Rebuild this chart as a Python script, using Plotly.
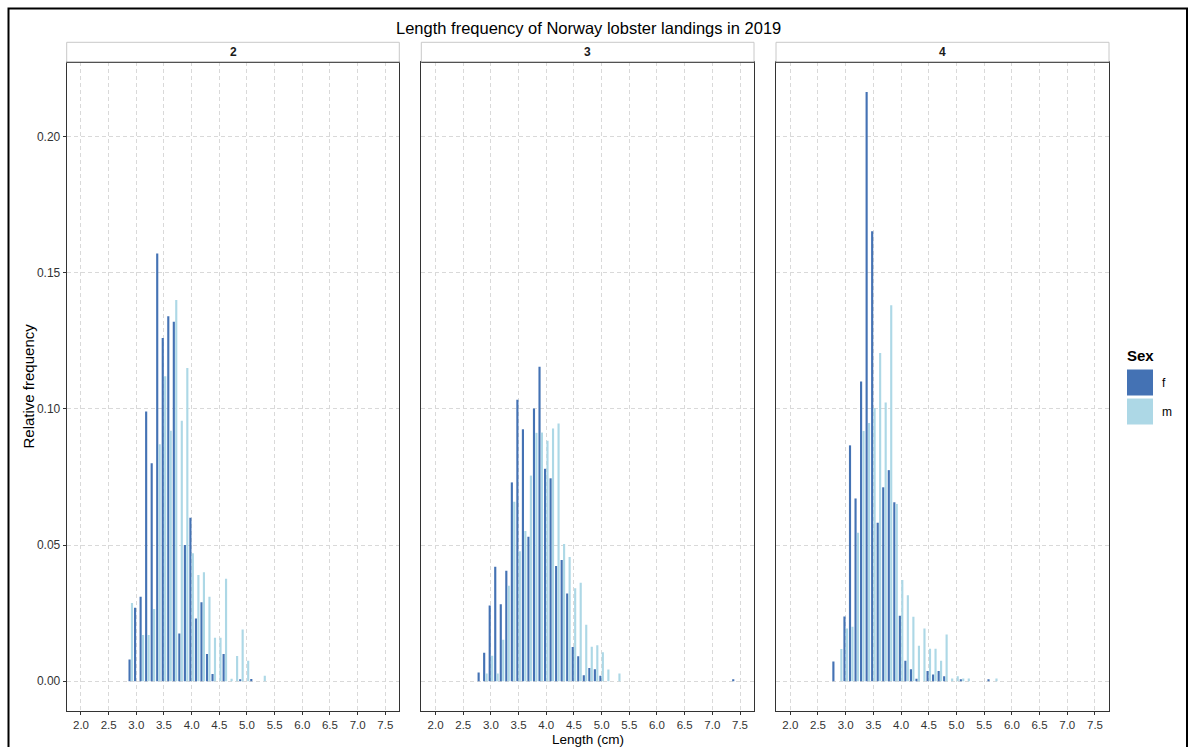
import numpy as np
import plotly.graph_objects as go

# ---------------- data ----------------
panels = ["2", "3", "4"]

lengths_2 = [2.9, 3.0, 3.1, 3.2, 3.3, 3.4, 3.5, 3.6, 3.7, 3.8, 3.9, 4.0, 4.1, 4.2,
             4.3, 4.4, 4.5, 4.6, 4.7, 4.8, 4.9, 5.0, 5.1, 5.2, 5.3]
f_2 = [0.008, 0.027, 0.031, 0.099, 0.080, 0.157, 0.126, 0.134, 0.132, 0.0175, 0.050,
       0.060, 0.023, 0.029, 0.010, 0.0027, 0.0, 0.010, 0.0, 0.0, 0.0006, 0.0, 0.0008,
       0.0, 0.0]
m_2 = [0.0287, 0.0, 0.017, 0.017, 0.0265, 0.087, 0.112, 0.092, 0.140, 0.0956, 0.115,
       0.047, 0.039, 0.040, 0.031, 0.016, 0.016, 0.0376, 0.0009, 0.0093, 0.019, 0.0075,
       0.0, 0.0, 0.002]

lengths_3 = [2.8, 2.9, 3.0, 3.1, 3.2, 3.3, 3.4, 3.5, 3.6, 3.7, 3.8, 3.9, 4.0, 4.1,
             4.2, 4.3, 4.4, 4.5, 4.6, 4.7, 4.8, 4.9, 5.0, 5.1, 5.2, 5.3, 7.4]
f_3 = [0.0032, 0.0105, 0.0278, 0.042, 0.0283, 0.0406, 0.073, 0.1033, 0.0925, 0.053,
       0.1001, 0.1155, 0.078, 0.0745, 0.0423, 0.0445, 0.0322, 0.0126, 0.0092, 0.0022,
       0.0049, 0.0044, 0.002, 0.0, 0.0, 0.0, 0.0006]
m_3 = [0.0, 0.0028, 0.0094, 0.0028, 0.0152, 0.0351, 0.0659, 0.0477, 0.0552, 0.0755,
       0.0912, 0.0913, 0.0883, 0.0928, 0.0946, 0.0504, 0.0456, 0.0341, 0.0362, 0.0207,
       0.0127, 0.0132, 0.0106, 0.0043, 0.0, 0.0028, 0.0]

lengths_4 = [2.8, 2.9, 3.0, 3.1, 3.2, 3.3, 3.4, 3.5, 3.6, 3.7, 3.8, 3.9, 4.0, 4.1,
             4.2, 4.3, 4.4, 4.5, 4.6, 4.7, 4.8, 4.9, 5.0, 5.1, 5.2, 5.3, 5.4, 5.5,
             5.6, 5.7]
f_4 = [0.0072, 0.0, 0.0238, 0.0866, 0.0671, 0.110, 0.2163, 0.1652, 0.0582, 0.0712,
       0.0775, 0.0657, 0.024, 0.0075, 0.0044, 0.0009, 0.0, 0.0038, 0.0025, 0.0038,
       0.0018, 0.0, 0.0, 0.0006, 0.0, 0.0, 0.0, 0.0, 0.0006, 0.0]
m_4 = [0.0, 0.0118, 0.0194, 0.020, 0.0545, 0.0919, 0.0948, 0.1003, 0.1205, 0.1023,
       0.138, 0.0651, 0.0372, 0.0316, 0.0237, 0.013, 0.0194, 0.0119, 0.0119, 0.0075,
       0.0172, 0.001, 0.0018, 0.001, 0.001, 0.0, 0.0, 0.0, 0.0, 0.001]

x_ticks = [2.0, 2.5, 3.0, 3.5, 4.0, 4.5, 5.0, 5.5, 6.0, 6.5, 7.0, 7.5]
y_ticks = [0.00, 0.05, 0.10, 0.15, 0.20]
sexes = ["f", "m"]

# ---------------- style ----------------
W, H = 1189, 747
COL = {"f": "#4472B4", "m": "#ADD8E6"}
FONT = "Liberation Sans, Arial, sans-serif"
TXT = "#333333"

def px_x(p):
    return p / W

def px_y(p):
    return 1 - p / H

panel_px = [(66.7, 399.3), (421.3, 754.0), (776.0, 1109.0)]
plot_top, plot_bot, strip_top = 62.3, 710.7, 42.3

data = [(lengths_2, f_2, m_2), (lengths_3, f_3, m_3), (lengths_4, f_4, m_4)]

fig = go.Figure()
for i, (lens, fv, mv) in enumerate(data):
    sfx = "" if i == 0 else str(i + 1)
    xs = np.round(np.array(lens), 2)
    for sex, vals in zip(sexes, (fv, mv)):
        fig.add_trace(go.Bar(
            x=xs, y=vals, name=sex, marker_color=COL[sex],
            marker_line_width=0, showlegend=False,
            xaxis="x" + sfx, yaxis="y" + sfx,
        ))

layout = dict(
    width=W, height=H, autosize=False,
    margin=dict(l=0, r=0, t=0, b=0),
    paper_bgcolor="white", plot_bgcolor="white",
    barmode="group", bargap=0.12, bargroupgap=0.12,
    font=dict(family=FONT, color=TXT, size=12),
    showlegend=False,
)

yr = [-0.01082, 0.22724]
xr = [1.742, 7.753]
for i, (l, r) in enumerate(panel_px):
    sfx = "" if i == 0 else str(i + 1)
    layout["xaxis" + sfx] = dict(
        domain=[px_x(l), px_x(r)], range=xr, anchor="y" + sfx,
        tickvals=x_ticks, ticktext=[f"{v:.1f}" for v in x_ticks],
        ticks="outside", ticklen=3, tickcolor="#333333", tickwidth=1,
        tickfont=dict(size=11.5, color=TXT, family=FONT),
        showgrid=True, gridcolor="#D9D9D9", griddash="4px,3px", gridwidth=1,
        showline=True, mirror=True, linecolor="#333333", linewidth=1,
        zeroline=False,
    )
    layout["yaxis" + sfx] = dict(
        domain=[px_y(plot_bot), px_y(plot_top)], range=yr, anchor="x" + sfx,
        tickvals=y_ticks, ticktext=[f"{v:.2f}" for v in y_ticks],
        showticklabels=(i == 0),
        ticks="outside" if i == 0 else "", ticklen=3, tickcolor="#333333",
        tickfont=dict(size=12, color=TXT, family=FONT),
        showgrid=True, gridcolor="#D9D9D9", griddash="4px,3px", gridwidth=1,
        showline=True, mirror=True, linecolor="#333333", linewidth=1,
        zeroline=False,
    )

shapes = []
annotations = []
for i, (l, r) in enumerate(panel_px):
    shapes.append(dict(type="rect", xref="paper", yref="paper",
                       x0=px_x(l), x1=px_x(r), y0=px_y(plot_top), y1=px_y(strip_top),
                       fillcolor="white", line=dict(color="#C8C8C8", width=1)))
    shapes.append(dict(type="line", xref="paper", yref="paper",
                       x0=px_x(l), x1=px_x(r), y0=px_y(plot_top), y1=px_y(plot_top),
                       line=dict(color="#333333", width=1)))
    annotations.append(dict(text=f"<b>{panels[i]}</b>", xref="paper", yref="paper",
                            x=px_x((l + r) / 2), y=px_y((plot_top + strip_top) / 2),
                            showarrow=False, xanchor="center", yanchor="middle",
                            font=dict(size=12, color="#1A1A1A", family=FONT)))

# outer border
shapes.append(dict(type="rect", xref="paper", yref="paper",
                   x0=px_x(8.5), x1=px_x(1187), y0=-0.05, y1=px_y(8.5),
                   line=dict(color="black", width=2), fillcolor="rgba(0,0,0,0)"))

# title and axis titles
annotations.append(dict(text="Length frequency of Norway lobster landings in 2019",
                        xref="paper", yref="paper", x=px_x(588), y=px_y(28),
                        showarrow=False, xanchor="center", yanchor="middle",
                        font=dict(size=16.5, color="black", family=FONT)))
annotations.append(dict(text="Length (cm)", xref="paper", yref="paper",
                        x=px_x(588), y=px_y(747.5), showarrow=False,
                        xanchor="center", yanchor="bottom", borderpad=0,
                        font=dict(size=13.5, color="black", family=FONT)))
annotations.append(dict(text="Relative frequency", xref="paper", yref="paper",
                        x=px_x(28), y=px_y((plot_top + plot_bot) / 2), textangle=-90,
                        showarrow=False, xanchor="center", yanchor="middle",
                        font=dict(size=15, color="black", family=FONT)))

# manual legend
annotations.append(dict(text="<b>Sex</b>", xref="paper", yref="paper",
                        x=px_x(1125), y=px_y(355), showarrow=False,
                        xanchor="left", yanchor="middle",
                        font=dict(size=15, color="black", family=FONT)))
for k, (sex, y0, y1) in enumerate([("f", 369, 396), ("m", 398, 425)]):
    shapes.append(dict(type="rect", xref="paper", yref="paper",
                       x0=px_x(1126.5), x1=px_x(1153.5), y0=px_y(y1), y1=px_y(y0),
                       fillcolor=COL[sex], line=dict(color="white", width=1)))
    annotations.append(dict(text=sex, xref="paper", yref="paper",
                            x=px_x(1160), y=px_y((y0 + y1) / 2), showarrow=False,
                            xanchor="left", yanchor="middle",
                            font=dict(size=12, color="black", family=FONT)))

layout["shapes"] = shapes
layout["annotations"] = annotations
fig.update_layout(**layout)
fig.write_html("out.html")
